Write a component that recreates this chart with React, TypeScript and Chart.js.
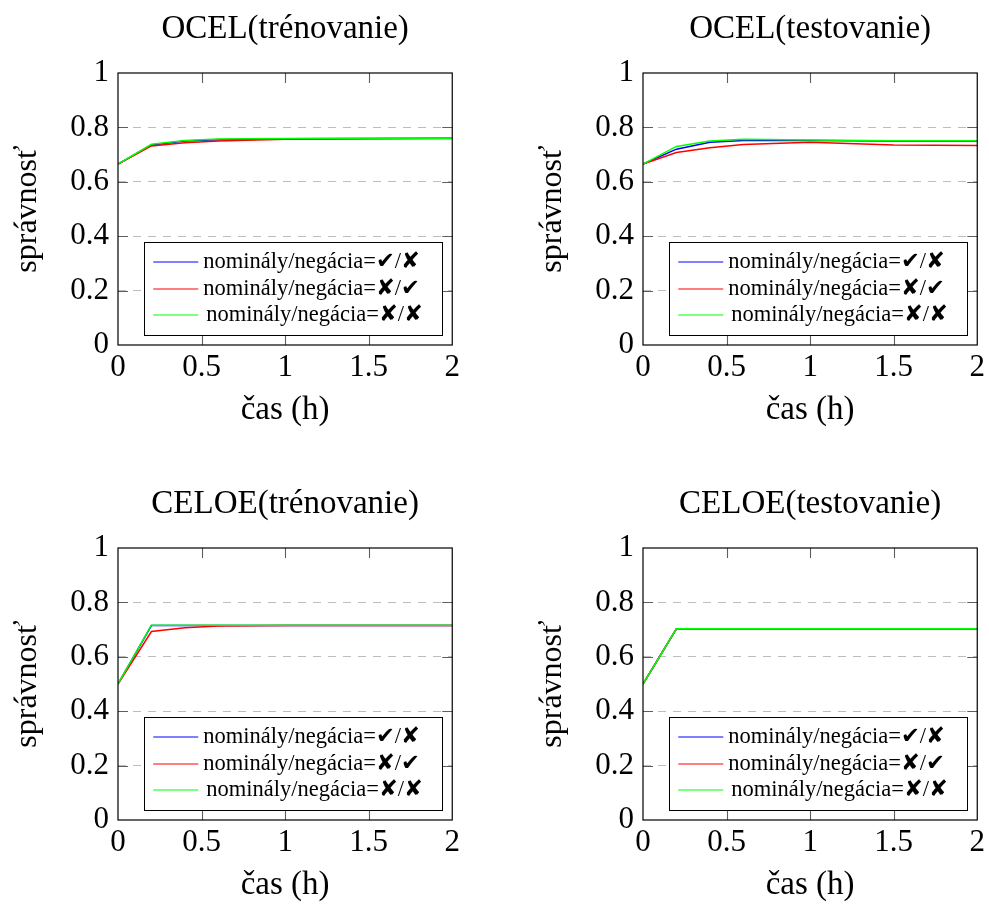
import React, { useEffect, useRef } from "react";
import { Chart, registerables } from "chart.js";

Chart.register(...registerables);

// ---------- data ----------
const timeH = [0, 0.2, 0.4, 0.6, 1, 1.5, 2];

const seriesLabels = [
  "nominály/negácia=✔/✘",
  "nominály/negácia=✘/✔",
  "nominály/negácia=✘/✘",
];
const seriesColors = ["#0000ff", "#ff0000", "#00ff00"];

const ocelTrainBlue = [0.665, 0.735, 0.75, 0.755, 0.758, 0.759, 0.76];
const ocelTrainRed = [0.665, 0.732, 0.744, 0.75, 0.756, 0.758, 0.759];
const ocelTrainGreen = [0.665, 0.738, 0.752, 0.757, 0.759, 0.76, 0.76];

const ocelTestBlue = [0.665, 0.72, 0.745, 0.752, 0.752, 0.75, 0.75];
const ocelTestRed = [0.665, 0.708, 0.725, 0.737, 0.745, 0.735, 0.733];
const ocelTestGreen = [0.665, 0.73, 0.75, 0.756, 0.754, 0.751, 0.751];

const celoeTrainBlue = [0.5, 0.715, 0.715, 0.715, 0.715, 0.715, 0.715];
const celoeTrainRed = [0.5, 0.693, 0.707, 0.713, 0.715, 0.715, 0.715];
const celoeTrainGreen = [0.5, 0.716, 0.716, 0.716, 0.716, 0.716, 0.716];

const celoeTestBlue = [0.5, 0.703, 0.703, 0.703, 0.703, 0.703, 0.703];
const celoeTestRed = [0.5, 0.703, 0.703, 0.703, 0.703, 0.703, 0.703];
const celoeTestGreen = [0.5, 0.703, 0.703, 0.703, 0.703, 0.703, 0.703];

const panelTitles = [
  "OCEL(trénovanie)",
  "OCEL(testovanie)",
  "CELOE(trénovanie)",
  "CELOE(testovanie)",
];

const xTickValues = [0, 0.5, 1, 1.5, 2];
const xTickLabels = ["0", "0.5", "1", "1.5", "2"];
const yTickValues = [0, 0.2, 0.4, 0.6, 0.8, 1];
const yTickLabels = ["0", "0.2", "0.4", "0.6", "0.8", "1"];

const xAxisTitle = "čas (h)";
const yAxisTitle = "správnosť";

const panelData = [
  [ocelTrainBlue, ocelTrainRed, ocelTrainGreen],
  [ocelTestBlue, ocelTestRed, ocelTestGreen],
  [celoeTrainBlue, celoeTrainRed, celoeTrainGreen],
  [celoeTestBlue, celoeTestRed, celoeTestGreen],
];

// ---------- styling ----------
const FAMILY = "'Liberation Serif', 'DejaVu Serif', serif";
const LEG_FAMILY = "'Liberation Serif', 'DejaVu Sans', serif";
const BIG = 31;
const TITLE = 33;
const LEG = 22.5;

const framePlugin = {
  id: "pgfFrame",
  afterDraw(chart: any) {
    const { ctx, chartArea } = chart;
    const { left, right, top, bottom } = chartArea;
    const xs = chart.scales.x;
    const ys = chart.scales.y;
    const tl = 10;
    ctx.save();
    ctx.strokeStyle = "#5e5e5e";
    ctx.lineWidth = 1.1;
    xTickValues.forEach((v) => {
      if (v <= 0 || v >= 2) return;
      const px = Math.round(xs.getPixelForValue(v)) + 0.5;
      ctx.beginPath();
      ctx.moveTo(px, bottom);
      ctx.lineTo(px, bottom - tl);
      ctx.moveTo(px, top);
      ctx.lineTo(px, top + tl);
      ctx.stroke();
    });
    yTickValues.forEach((v) => {
      if (v <= 0 || v >= 1) return;
      const py = Math.round(ys.getPixelForValue(v)) + 0.5;
      ctx.beginPath();
      ctx.moveTo(left, py);
      ctx.lineTo(left + tl, py);
      ctx.moveTo(right, py);
      ctx.lineTo(right - tl, py);
      ctx.stroke();
    });
    ctx.strokeStyle = "#000";
    ctx.lineWidth = 1.2;
    ctx.strokeRect(left, top, right - left, bottom - top);

    // legend
    const bw = 298;
    const bh = 93;
    const bx = right - 10 - bw;
    const by = bottom - 10 - bh;
    ctx.fillStyle = "#fff";
    ctx.fillRect(bx, by, bw, bh);
    ctx.strokeStyle = "#000";
    ctx.lineWidth = 1;
    ctx.strokeRect(Math.round(bx) + 0.5, Math.round(by) + 0.5, bw, bh);
    const rowOff = [20, 46.7, 73.4];
    chart.data.datasets.forEach((ds: any, i: number) => {
      const cy = by + rowOff[i];
      ctx.strokeStyle = ds.borderColor;
      ctx.lineWidth = 1.2;
      ctx.beginPath();
      ctx.moveTo(bx + 9, Math.round(cy));
      ctx.lineTo(bx + 54, Math.round(cy));
      ctx.stroke();
      ctx.fillStyle = "#000";
      ctx.font = `${LEG}px ${LEG_FAMILY}`;
      ctx.textBaseline = "middle";
      ctx.textAlign = "left";
      ctx.fillText(ds.label, bx + 59 + (i === 2 ? 3 : 0), cy);
    });
    ctx.restore();
  },
};

function makeConfig(title: string, series: number[][]): any {
  return {
    type: "line",
    data: {
      datasets: series.map((vals, i) => ({
        label: seriesLabels[i],
        data: vals.map((v, j) => ({ x: timeH[j], y: v })),
        borderColor: seriesColors[i],
        backgroundColor: seriesColors[i],
        borderWidth: 1.5,
        pointRadius: 0,
        tension: 0,
        fill: false,
        order: series.length - 1 - i,
      })),
    },
    options: {
      responsive: false,
      animation: false,
      events: [],
      layout: { padding: 0 },
      plugins: {
        legend: { display: false },
        tooltip: { enabled: false },
        title: {
          display: true,
          fullSize: false,
          text: title,
          color: "#000",
          font: { family: FAMILY, size: TITLE, weight: "normal", lineHeight: 1.2 },
          padding: { top: 9.2, bottom: 24.2 },
        },
      },
      scales: {
        x: {
          type: "linear",
          min: 0,
          max: 2,
          afterBuildTicks: (s: any) => {
            s.ticks = xTickValues.map((v) => ({ value: v }));
          },
          ticks: {
            callback: (_v: any, i: number) => xTickLabels[i],
            color: "#000",
            font: { family: FAMILY, size: BIG },
            padding: 4,
            maxRotation: 0,
            autoSkip: false,
          },
          grid: { display: false, drawTicks: false },
          border: { display: false },
          title: {
            display: true,
            text: xAxisTitle,
            color: "#000",
            font: { family: FAMILY, size: BIG + 2, lineHeight: 1.2 },
            padding: { top: 0, bottom: 0 },
          },
          afterFit: (s: any) => {
            s.height = 85;
          },
        },
        y: {
          type: "linear",
          min: 0,
          max: 1,
          afterBuildTicks: (s: any) => {
            s.ticks = yTickValues.map((v) => ({ value: v }));
          },
          ticks: {
            callback: (_v: any, i: number) => yTickLabels[i],
            color: "#000",
            font: { family: FAMILY, size: BIG },
            padding: 9,
            autoSkip: false,
          },
          grid: {
            drawTicks: false,
            lineWidth: 1,
            color: (c: any) =>
              c.tick && c.tick.value > 0 && c.tick.value < 1 ? "#bdbdbd" : "rgba(0,0,0,0)",
          },
          border: { display: false, dash: [8, 7] },
          title: {
            display: true,
            text: yAxisTitle,
            color: "#000",
            font: { family: FAMILY, size: BIG + 1, lineHeight: 1.2 },
            padding: { top: 8.5, bottom: 0 },
          },
          afterFit: (s: any) => {
            s.width = 118;
          },
        },
        y2: {
          type: "linear",
          position: "right",
          min: 0,
          max: 1,
          display: true,
          ticks: { display: false },
          grid: { display: false, drawTicks: false },
          border: { display: false },
          afterFit: (s: any) => {
            s.width = 11;
          },
        },
      },
    },
    plugins: [framePlugin],
  };
}

const panelBoxes = [
  { left: 0, top: 0 },
  { left: 525, top: 0 },
  { left: 0, top: 475 },
  { left: 525, top: 475 },
];
const CW = 464;
const CH = 430;

export default function App() {
  const refs = [
    useRef<HTMLCanvasElement>(null),
    useRef<HTMLCanvasElement>(null),
    useRef<HTMLCanvasElement>(null),
    useRef<HTMLCanvasElement>(null),
  ];

  useEffect(() => {
    const charts: Chart[] = [];
    refs.forEach((r, i) => {
      if (r.current) {
        charts.push(new Chart(r.current, makeConfig(panelTitles[i], panelData[i])));
      }
    });
    return () => charts.forEach((c) => c.destroy());
  }, []);

  return (
    <div
      style={{
        position: "fixed",
        left: 0,
        top: 0,
        width: 989,
        height: 905,
        background: "#fff",
      }}
    >
      {panelBoxes.map((b, i) => (
        <canvas
          key={i}
          ref={refs[i]}
          width={CW}
          height={CH}
          style={{
            position: "absolute",
            left: b.left,
            top: b.top,
            width: CW,
            height: CH,
          }}
        />
      ))}
    </div>
  );
}
